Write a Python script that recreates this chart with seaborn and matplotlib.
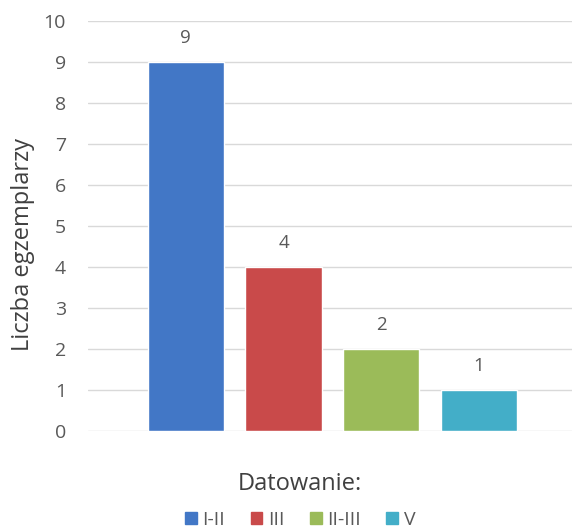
import pandas as pd
import seaborn as sns
import matplotlib.pyplot as plt
from matplotlib.patches import Patch

categories = ['I-II', 'III', 'II-III', 'V']
counts = [9, 4, 2, 1]
colors = ['#4277C6', '#C94A4A', '#9BBB59', '#43AEC8']

df = pd.DataFrame({'Datowanie': categories, 'Liczba': counts})

sns.set_style('white')
plt.rcParams['font.family'] = ['Open Sans', 'DejaVu Sans']

fig = plt.figure(figsize=(5.72, 5.28), dpi=100)
ax = fig.add_axes([0.154, 0.184, 0.846, 0.776])

sns.barplot(data=df, x='Datowanie', y='Liczba', hue='Datowanie',
            palette=colors, width=0.78, legend=False, ax=ax, saturation=1)

for c in ax.containers:
    ax.bar_label(c, padding=11, fontsize=13.5, color='#595959')

ax.set_ylim(0, 10)
ax.set_yticks(range(0, 11))
ax.set_xlim(-1.0, 3.95)
ax.set_xticks([])
ax.yaxis.grid(True, color='#D9D9D9', linewidth=1)
ax.set_axisbelow(True)
sns.despine(ax=ax, left=True, bottom=True)
ax.tick_params(axis='y', labelsize=14, colors='#595959', length=0, pad=16)
ax.set_ylabel('Liczba egzemplarzy', fontsize=17, color='#404040')
ax.set_xlabel('Datowanie:', fontsize=17, color='#404040')
ax.yaxis.set_label_coords(-0.11, 0.456)
ax.xaxis.set_label_coords(0.438, -0.1)

handles = [Patch(color=c) for c in colors]
fig.legend(handles, categories, loc='center', bbox_to_anchor=(0.525, 0.015),
           ncol=4, frameon=False, fontsize=14, handlelength=0.6,
           handleheight=0.6, handletextpad=0.3, columnspacing=1.3,
           labelcolor='#595959')

fig.savefig('out.png', dpi=100)
